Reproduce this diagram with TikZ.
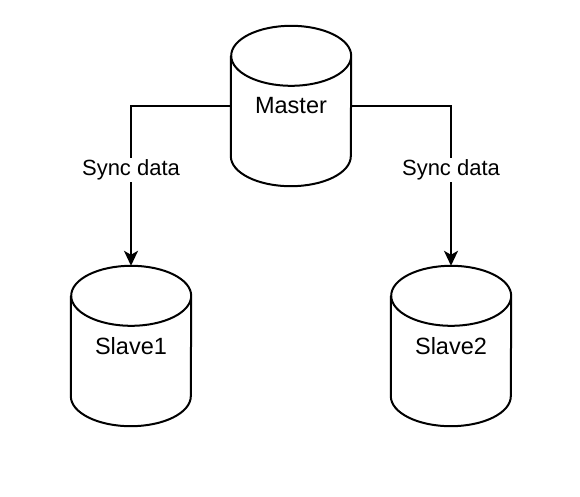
\documentclass[tikz,border=0pt]{standalone}
\usepackage{fontspec}
\setmainfont{Liberation Sans}
\usetikzlibrary{calc,arrows.meta}
\newcommand{\drawcyl}[1]{%
  \draw[cylline] ($(#1.north west)+(0,-30)$) -- ($(#1.south west)+(0,30)$)
    arc[start angle=180,end angle=360,x radius=60pt,y radius=30pt]
    -- ($(#1.north east)+(0,-30)$)
    arc[start angle=0,end angle=180,x radius=60pt,y radius=30pt]
    arc[start angle=180,end angle=360,x radius=60pt,y radius=30pt];}
\begin{document}
\begin{tikzpicture}[x=1pt,y=1pt,
  cylbox/.style={minimum width=120pt,minimum height=160pt,inner sep=0pt,
    font=\fontsize{23.5}{27}\selectfont},
  cylline/.style={line width=2pt,line join=round},
  conn/.style={line width=2pt,-{Stealth[length=15pt,width=14pt,inset=4pt]}},
  lbl/.style={fill=white,inner sep=2pt,font=\fontsize{22}{26}\selectfont}]
\useasboundingbox (0,0) rectangle (580,496);
\node[cylbox] (master) at (291,390) {Master};
\node[cylbox] (slave1) at (131,150) {Slave1};
\node[cylbox] (slave2) at (451,150) {Slave2};
\drawcyl{master}
\drawcyl{slave1}
\drawcyl{slave2}
\draw[conn] (master.west) -| node[lbl,pos=0.7] {Sync data} (slave1.north);
\draw[conn] (master.east) -| node[lbl,pos=0.7] {Sync data} (slave2.north);
\end{tikzpicture}
\end{document}
